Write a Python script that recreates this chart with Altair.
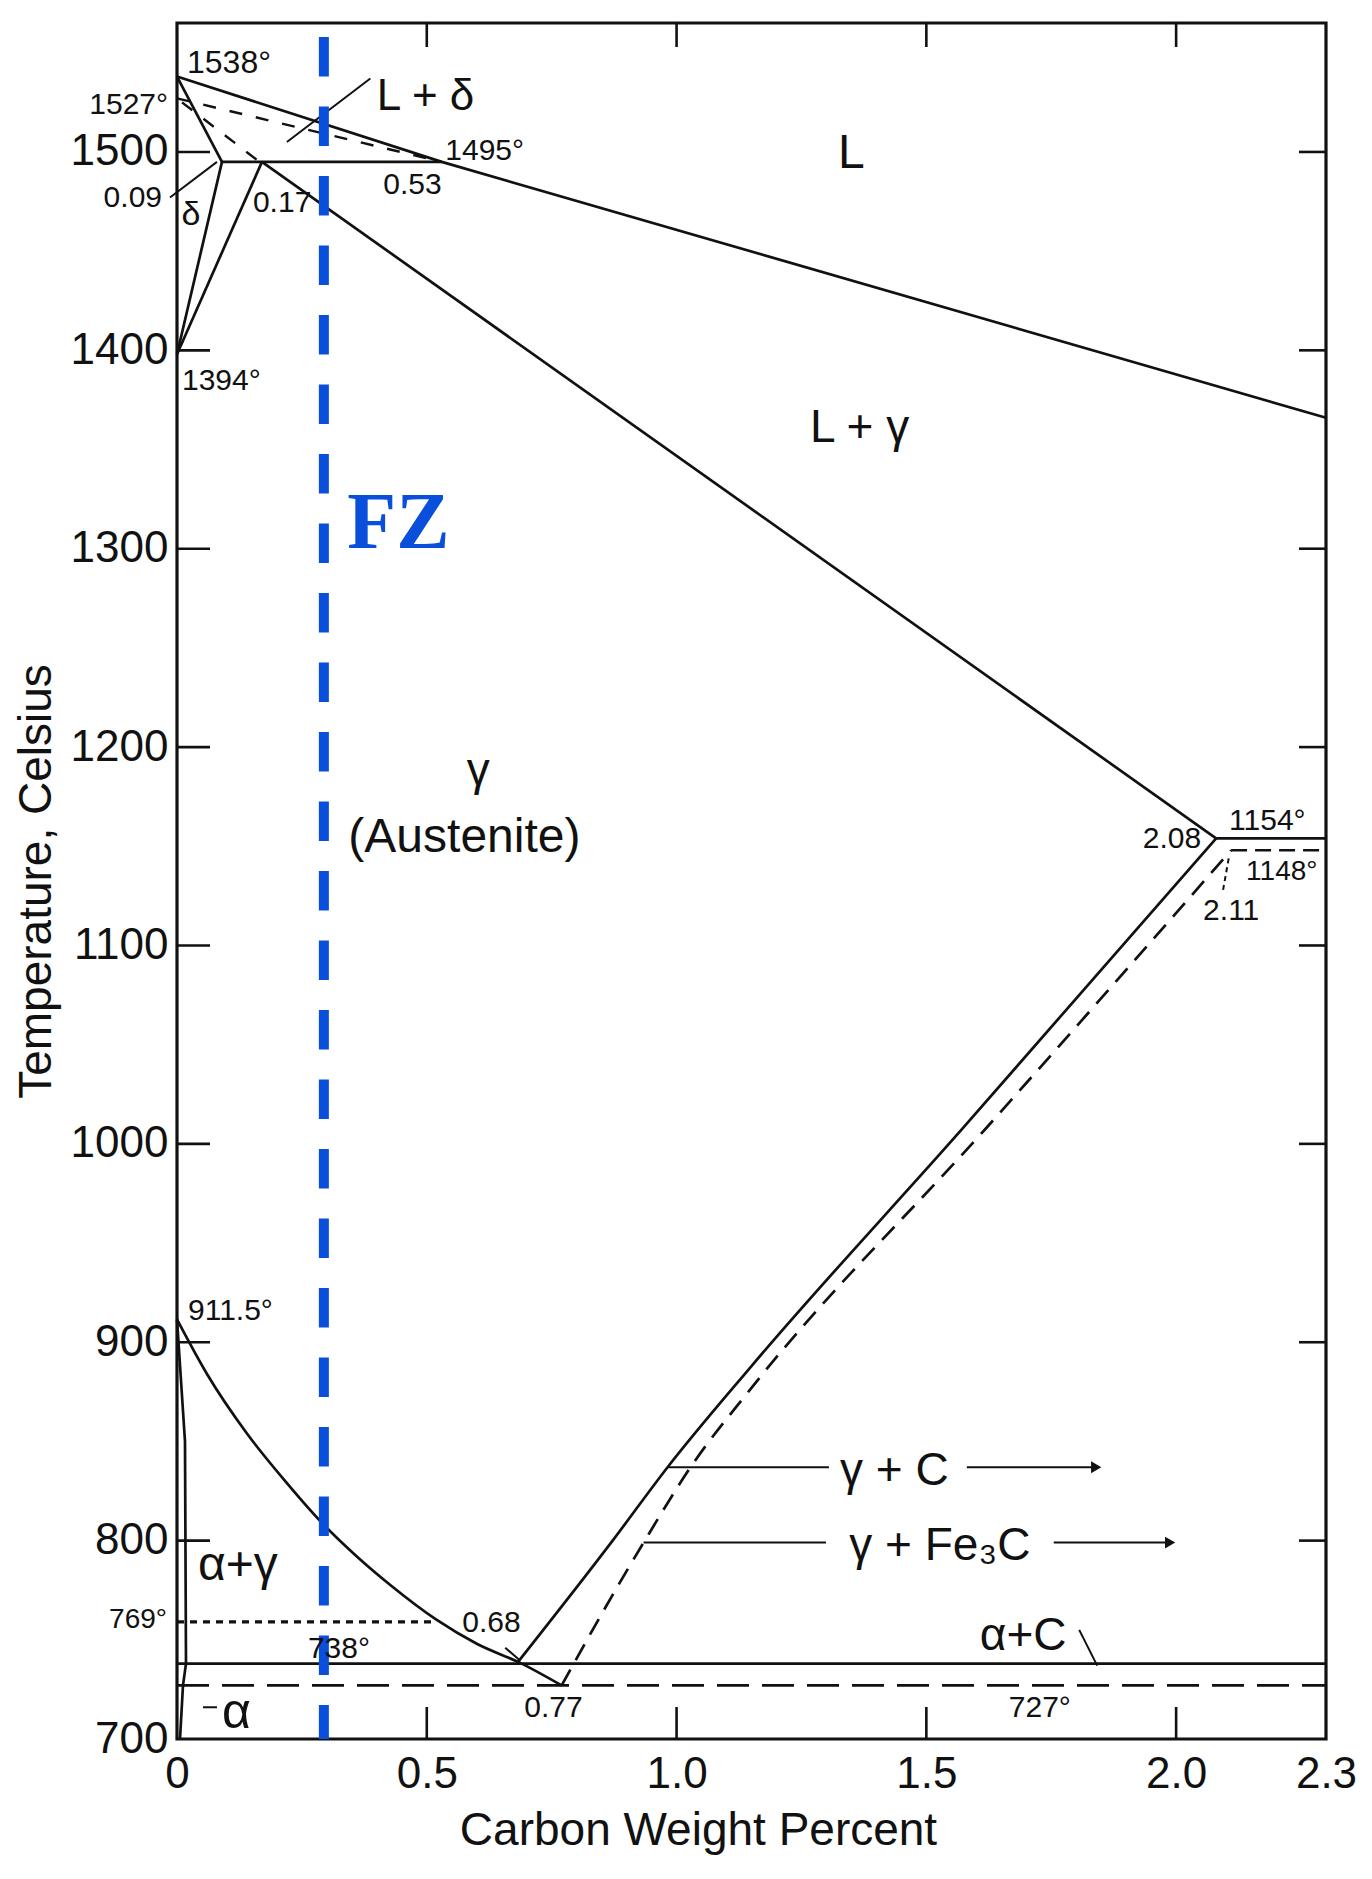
import altair as alt
import pandas as pd

# ---------------- data (wt% C, degrees Celsius) ----------------
X_DOMAIN = [0, 2.3]
T_DOMAIN = [700, 1565]

x_tick_values = [0, 0.5, 1.0, 1.5, 2.0, 2.3]
y_tick_values = [700, 800, 900, 1000, 1100, 1200, 1300, 1400, 1500]
inner_x_ticks = [0.5, 1.0, 1.5, 2.0]
inner_y_ticks = [800, 900, 1000, 1100, 1200, 1300, 1400, 1500]

# solid boundaries
liquidus_x = [0.0, 0.53, 2.3]
liquidus_t = [1538, 1495, 1366]
delta_solidus_x = [0.0, 0.09]
delta_solidus_t = [1538, 1495]
peritectic_x = [0.09, 0.53]
peritectic_t = [1495, 1495]
delta_solvus_x = [0.0, 0.09]
delta_solvus_t = [1398, 1495]
gamma_delta_x = [0.0, 0.17]
gamma_delta_t = [1398, 1495]
solidus_x = [0.17, 2.08]
solidus_t = [1495, 1154]
eutectic_graph_x = [2.08, 2.3]
eutectic_graph_t = [1154, 1154]
acm_graph_x = [0.68, 0.872, 0.982, 1.15, 1.57, 2.08]
acm_graph_t = [738, 800, 837, 888, 1007, 1154]
a3_x = [0.0, 0.06, 0.14, 0.22, 0.29, 0.36, 0.43, 0.52, 0.60, 0.69, 0.77]
a3_t = [911.5, 884, 854, 829, 809, 792, 777, 760, 748, 738, 727]
eutectoid_graph_x = [0.0, 2.3]
eutectoid_graph_t = [738, 738]
alpha_x = [0.0, 0.016, 0.018, 0.012, 0.006]
alpha_t = [911.5, 850, 738, 727, 700]

# dashed boundaries (Fe-Fe3C / older values)
eutectoid_cem_x = [0.0, 2.3]
eutectoid_cem_t = [727, 727]
eutectic_cem_x = [2.11, 2.3]
eutectic_cem_t = [1148, 1148]
acm_cem_x = [0.77, 0.85, 0.934, 1.028, 1.15, 1.62, 2.11]
acm_cem_t = [727, 763, 799, 837, 877, 1008, 1148]
old_liquidus_x = [0.0, 0.53]
old_liquidus_t = [1527, 1495]
old_solidus_x = [0.01, 0.16]
old_solidus_t = [1525, 1496]

# dotted magnetic line
curie_x = [0.0, 0.52]
curie_t = [759, 759]

# leader lines
leader_names = ["Ld", "009", "068", "aC", "alpha", "gC_l", "gC_r", "gF_l", "gF_r"]
leader_x = [[0.387, 0.22], [-0.014, 0.08], [0.657, 0.685], [1.806, 1.842], [0.052, 0.08],
            [0.982, 1.305], [1.581, 1.84], [0.934, 1.299], [1.755, 1.988]]
leader_t = [[1537, 1505], [1477, 1495], [746, 740], [755, 737], [716, 716],
            [837, 837], [837, 837], [799, 799], [799, 799]]
leader211_x = [2.094, 2.106]
leader211_t = [1128, 1145]
arrow_x = [1.84, 1.988]
arrow_t = [837, 799]

# FZ line
fz_x = [0.294]
fz_top = [1558]
fz_bottom = [700]
fz_label_x = [0.341]
fz_label_t = [1300.6]

# text annotations
left_text = ["1538°", "L + δ", "1495°", "0.53", "0.17", "1394°", "L + γ", "(Austenite)",
             "1154°", "1148°", "2.11", "911.5°", "α+γ", "738°", "0.68", "0.77", "α", "α+C", "727°"]
left_x = [0.02, 0.40, 0.537, 0.413, 0.152, 0.01, 1.267, 0.343,
          2.106, 2.14, 2.054, 0.022, 0.042, 0.262, 0.571, 0.695, 0.09, 1.607, 1.665]
left_t = [1540, 1521, 1496, 1479, 1469.5, 1380, 1354, 1147,
          1158, 1133, 1113, 911, 780, 741, 754, 711, 705.5, 745, 711]
left_size = [32, 44, 30, 30, 30, 30, 46, 48, 30, 28, 30, 30, 48, 30, 30, 30, 50, 46, 30]

right_text = ["1527°", "0.09", "2.08", "769°"]
right_x = [-0.018, -0.03, 2.05, -0.02]
right_t = [1519, 1472, 1149, 756]
right_size = [30, 30, 30, 28]

center_text = ["L", "γ", "δ", "γ + C", "γ + Fe₃C"]
center_x = [1.35, 0.603, 0.028, 1.436, 1.527]
center_t = [1492, 1181, 1463, 828, 790]
center_size = [48, 46, 34, 46, 46]

# ---------------- build ----------------
W, H = 1149, 1716
FONT = "Liberation Sans"
BLUE = "#0a4fdc"
INK = "#111111"


def seg_frame(segments):
    rows = []
    for name, xs_, ts_ in segments:
        for i, (x, t) in enumerate(zip(xs_, ts_)):
            rows.append({"seg": name, "i": i, "x": x, "t": t})
    return pd.DataFrame(rows)


xs = alt.Scale(domain=X_DOMAIN, nice=False, zero=False)
ys = alt.Scale(domain=T_DOMAIN, nice=False, zero=False)

x_axis = alt.Axis(
    values=x_tick_values,
    labelExpr="datum.value == 0 ? '0' : format(datum.value, '.1f')",
    title="Carbon Weight Percent", ticks=False, tickSize=0, domain=False, grid=False,
    labelFont=FONT, labelFontSize=44, labelColor=INK, labelPadding=13,
    labelFlush=False, labelOverlap=False,
    titleFont=FONT, titleFontSize=46, titleFontWeight="normal", titleColor=INK,
    titleX=521, titleY=91, titleAlign="center", titleBaseline="middle")
y_axis = alt.Axis(
    values=y_tick_values, format="d",
    title="Temperature, Celsius", ticks=False, tickSize=0, domain=False, grid=False,
    labelFont=FONT, labelFontSize=44, labelColor=INK, labelPadding=9,
    labelFlush=False, labelOverlap=False,
    titleFont=FONT, titleFontSize=46, titleFontWeight="normal", titleColor=INK,
    titleX=-141, titleY=858, titleAngle=270, titleAlign="center", titleBaseline="middle")


def X(f="x"):
    return alt.X(f"{f}:Q", scale=xs, axis=x_axis, title="Carbon Weight Percent")


def Y(f="t"):
    return alt.Y(f"{f}:Q", scale=ys, axis=y_axis, title="Temperature, Celsius")


solid_lin = seg_frame([
    ("liq", liquidus_x, liquidus_t),
    ("dsol", delta_solidus_x, delta_solidus_t),
    ("per", peritectic_x, peritectic_t),
    ("dsv", delta_solvus_x, delta_solvus_t),
    ("gd", gamma_delta_x, gamma_delta_t),
    ("sol", solidus_x, solidus_t),
    ("eg", eutectic_graph_x, eutectic_graph_t),
    ("edg", eutectoid_graph_x, eutectoid_graph_t),
    ("alpha", alpha_x, alpha_t),
])
solid_curve = seg_frame([("a3", a3_x, a3_t), ("acmg", acm_graph_x, acm_graph_t)])
dash_long = seg_frame([("ec", eutectoid_cem_x, eutectoid_cem_t)])
dash_med_lin = seg_frame([("euc", eutectic_cem_x, eutectic_cem_t)])
dash_med_curve = seg_frame([("acmc", acm_cem_x, acm_cem_t)])
dash_short = seg_frame([("ol", old_liquidus_x, old_liquidus_t), ("os", old_solidus_x, old_solidus_t)])
dotted = seg_frame([("curie", curie_x, curie_t)])
leaders = seg_frame([(n, lx, lt) for n, lx, lt in zip(leader_names, leader_x, leader_t)])
leader211 = seg_frame([("l211", leader211_x, leader211_t)])


def line_layer(df, interp="linear", dash=None, width=2.7):
    kw = dict(color=INK, strokeWidth=width, interpolate=interp, strokeCap="butt")
    if dash:
        kw["strokeDash"] = dash
    return alt.Chart(df).mark_line(**kw).encode(
        x=X(), y=Y(), detail="seg:N", order="i:Q")


layers = []
layers.append(line_layer(solid_lin))
layers.append(line_layer(solid_curve, interp="monotone"))
layers.append(line_layer(dash_long, dash=[32, 13]))
layers.append(line_layer(dash_med_lin, dash=[16, 8]))
layers.append(line_layer(dash_med_curve, interp="monotone", dash=[18, 11]))
layers.append(line_layer(dash_short, dash=[13, 14], width=2.4))
layers.append(line_layer(dotted, dash=[7, 6], width=3.2))
layers.append(line_layer(leaders, width=2.0))
layers.append(line_layer(leader211, dash=[5, 4], width=2.0))

layers.append(alt.Chart(pd.DataFrame({"x": arrow_x, "t": arrow_t})).mark_point(
    shape="triangle-right", filled=True, size=140, color=INK, opacity=1).encode(x=X(), y=Y()))

# inward ticks on all four sides
tx = pd.DataFrame({"x": inner_x_ticks})
ty = pd.DataFrame({"t": inner_y_ticks})
layers.append(alt.Chart(tx).mark_rule(color=INK, strokeWidth=2.6).encode(
    x=X(), y=alt.value(0), y2=alt.value(24)))
layers.append(alt.Chart(tx).mark_rule(color=INK, strokeWidth=2.6).encode(
    x=X(), y=alt.value(H - 32), y2=alt.value(H)))
layers.append(alt.Chart(ty).mark_rule(color=INK, strokeWidth=2.6).encode(
    y=Y(), x=alt.value(0), x2=alt.value(33)))
layers.append(alt.Chart(ty).mark_rule(color=INK, strokeWidth=2.6).encode(
    y=Y(), x=alt.value(W - 27), x2=alt.value(W)))

# FZ dashed line
layers.append(alt.Chart(pd.DataFrame({"x": fz_x, "t": fz_top, "t2": fz_bottom})).mark_rule(
    color=BLUE, strokeWidth=10, strokeDash=[39.5, 30]).encode(
    x=X(), y=Y(), y2="t2:Q"))
layers.append(alt.Chart(pd.DataFrame({"x": fz_label_x, "t": fz_label_t, "s": ["FZ"]})).mark_text(
    font="Liberation Serif", fontWeight="bold", fontSize=80, color=BLUE,
    align="left", baseline="alphabetic").encode(x=X(), y=Y(), text="s:N"))


def text_layer(texts, xs_, ts_, sizes, align):
    df = pd.DataFrame({"x": xs_, "t": ts_, "s": texts, "fs": sizes})
    return alt.Chart(df).mark_text(font=FONT, color=INK, align=align, baseline="alphabetic").encode(
        x=X(), y=Y(), text="s:N", size=alt.Size("fs:Q", scale=None, legend=None))


layers.append(text_layer(left_text, left_x, left_t, left_size, "left"))
layers.append(text_layer(right_text, right_x, right_t, right_size, "right"))
layers.append(text_layer(center_text, center_x, center_t, center_size, "center"))

chart = alt.layer(*layers).properties(
    width=W, height=H,
    padding={"left": 169, "top": 15, "right": 38, "bottom": 125},
    autosize=alt.AutoSizeParams(type="none"),
    background="white",
).configure_view(stroke=INK, strokeWidth=3.2)

chart.save("out.html", embed_options={"renderer": "svg", "actions": False})
